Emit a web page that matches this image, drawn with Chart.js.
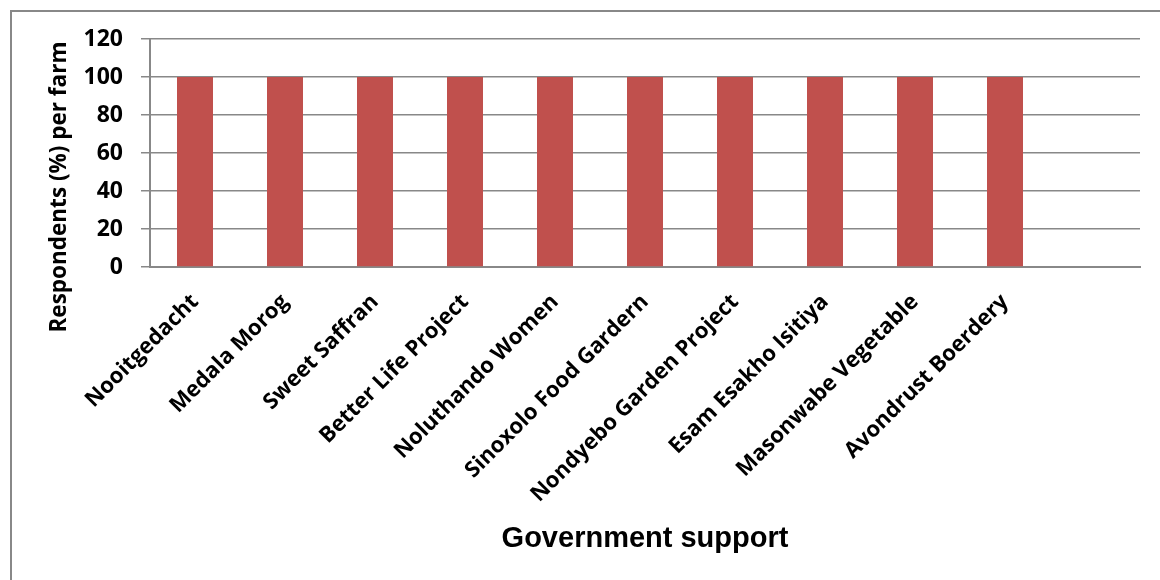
<!DOCTYPE html>
<html lang="en">
<head>
  <meta charset="UTF-8" />
  <title>Government support</title>
  <script src="https://cdn.jsdelivr.net/npm/chart.js"></script>
  <style>
    body { margin: 0; background: #fff; overflow: hidden; }
    .wrap { position: relative; width: 1160px; height: 580px; }
    .frame { position: absolute; left: 10px; top: 10px; width: 1200px; height: 620px; border: 2px solid #888; }
    canvas { position: absolute; left: 0; top: 0; }
  </style>
</head>
<body>
  <div class="wrap">
    <div class="frame"></div>
    <canvas id="supportChart" width="1160" height="580"></canvas>
  </div>

  <script>
    // farms (last slot is empty in the original chart)
    const farms = ["Nooitgedacht", "Medala Morog", "Sweet Saffran", "Better Life Project",
      "Noluthando Women", "Sinoxolo Food Gardern", "Nondyebo Garden Project",
      "Esam Esakho Isitiya", "Masonwabe Vegetable", "Avondrust Boerdery", ""];
    const respondents = [100, 100, 100, 100, 100, 100, 100, 100, 100, 100, null];
    const yTicks = [0, 20, 40, 60, 80, 100, 120];
    const yTitle = "Respondents (%) per farm";
    const xTitle = "Government support";

    // y title drawn by hand so it sits where the original has it
    const yTitlePlugin = {
      id: "yTitle",
      afterDraw(chart) {
        const c = chart.ctx;
        c.save();
        c.translate(60, 187);
        c.rotate(-Math.PI / 2);
        c.font = "bold 22.5px 'Open Sans'";
        c.fillStyle = "#000";
        c.textAlign = "center";
        c.textBaseline = "middle";
        c.fillText(yTitle, 0, 0);
        c.restore();
      }
    };

    const ctx = document.getElementById("supportChart").getContext("2d");
    new Chart(ctx, {
      type: "bar",
      data: {
        labels: farms,
        datasets: [{
          data: respondents,
          backgroundColor: "#C0504D",
          borderWidth: 0,
          categoryPercentage: 1,
          barPercentage: 0.4
        }]
      },
      options: {
        responsive: false,
        animation: false,
        layout: { padding: { top: 39, right: 20, left: 0, bottom: 0 } },
        plugins: { legend: { display: false }, tooltip: { enabled: false } },
        scales: {
          x: {
            grid: { display: false },
            border: { display: true, color: "#888", width: 2 },
            ticks: {
              color: "#000", font: { family: "Open Sans", size: 22, weight: "bold" },
              autoSkip: false, maxRotation: 45, minRotation: 45, padding: 14
            },
            title: {
              display: true, text: xTitle, color: "#000",
              font: { family: "Liberation Sans", size: 29, weight: "bold" },
              padding: { top: 4, bottom: 24 }
            },
            afterFit(scale) { scale.height = 313; }
          },
          y: {
            min: 0, max: 120,
            afterBuildTicks(scale) { scale.ticks = yTicks.map(v => ({ value: v })); },
            grid: { color: "#888", lineWidth: 1.5, tickLength: 9 },
            border: { display: true, color: "#888", width: 2 },
            ticks: { color: "#000", font: { family: "Open Sans", size: 23, weight: "bold" }, padding: 18 },
            afterFit(scale) { scale.width = 150; }
          }
        }
      },
      plugins: [yTitlePlugin]
    });
  </script>
</body>
</html>
